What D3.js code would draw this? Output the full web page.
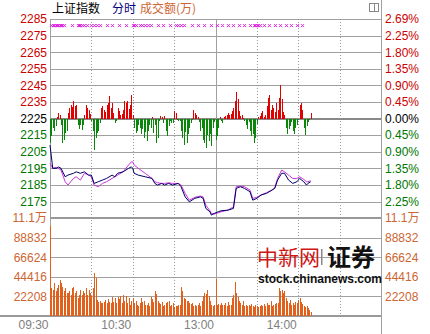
<!DOCTYPE html>
<html>
<head>
<meta charset="utf-8">
<script src="https://cdnjs.cloudflare.com/ajax/libs/d3/7.8.5/d3.min.js"></script>
<style>
  body { margin: 0; background: #fff; }
  svg text { font-family: "Liberation Sans", Arial, "Noto Sans CJK SC", sans-serif; }
</style>
</head>
<body>
<svg id="chart" width="430" height="334"></svg>
<script>
// --- data ---
var prevClose = 2225;
var priceTicks = [2285, 2275, 2265, 2255, 2245, 2235, 2225, 2215, 2205, 2195, 2185, 2175];
var pctLabels = ['2.69%', '2.25%', '1.80%', '1.35%', '0.90%', '0.45%', '0.00%',
                 '0.45%', '0.90%', '1.35%', '1.80%', '2.25%'];
var volTicks = [22208, 44416, 66624, 88832];
var volTop = 111040;
var volTopLabel = '11.1万';
var timeTicks = [0, 60, 120, 180];
var timeLabels = ['09:30', '10:30', '13:00', '14:00'];
var gridMinutes = [30, 60, 90, 120, 150, 180, 210];

// minutes after 09:30 (lunch break removed) for the two lines
var lineMinutes = [0, 2, 5, 6, 8, 11, 13, 17, 19, 22, 25, 28, 30, 32, 35, 38, 41, 45, 47, 49,
  53, 57, 59, 60, 61, 64, 69, 74, 76, 78, 81, 83, 86, 89, 93, 95, 98, 101, 105, 109,
  111, 113, 116, 117, 119, 122, 124, 129, 133, 135, 138, 141, 145, 147, 150, 153, 157, 161, 163, 165,
  168, 170, 173, 176, 179, 181, 184, 186, 187, 189];
var indexLine = [2209.0, 2195.0, 2195.0, 2195.9, 2195.0, 2189.9, 2190.9, 2192.0, 2192.9, 2192.0,
  2192.9, 2190.9, 2190.9, 2185.9, 2186.9, 2187.9, 2188.9, 2190.9, 2189.9, 2192.0,
  2192.9, 2195.0, 2195.9, 2195.0, 2192.0, 2190.9, 2189.9, 2188.9, 2185.9, 2184.9,
  2185.9, 2184.9, 2185.9, 2184.9, 2185.9, 2183.9, 2177.8, 2174.8, 2176.9, 2177.8,
  2176.9, 2170.8, 2168.8, 2166.8, 2167.8, 2168.8, 2169.4, 2169.8, 2170.8, 2182.9,
  2183.9, 2182.9, 2180.9, 2175.8, 2176.9, 2178.9, 2179.9, 2181.9, 2182.9, 2187.9,
  2192.0, 2192.0, 2187.9, 2185.9, 2186.9, 2188.9, 2186.9, 2184.9, 2185.9, 2186.9];
var avgLine = [2198.0, 2195.0, 2195.6, 2195.0, 2193.9, 2186.9, 2184.9, 2188.9, 2189.9, 2187.9,
  2192.0, 2190.9, 2189.9, 2184.9, 2183.9, 2185.9, 2186.9, 2188.9, 2189.9, 2190.9,
  2192.9, 2197.0, 2198.9, 2198.9, 2197.0, 2195.0, 2192.0, 2188.9, 2186.9, 2186.3,
  2185.9, 2185.9, 2186.3, 2185.9, 2185.9, 2184.9, 2179.9, 2175.8, 2177.5, 2178.3,
  2177.8, 2172.8, 2169.4, 2167.8, 2167.4, 2168.2, 2168.8, 2169.8, 2171.8, 2183.9,
  2184.3, 2183.9, 2181.9, 2176.9, 2177.5, 2178.9, 2180.3, 2181.9, 2183.5, 2188.9,
  2194.0, 2192.9, 2190.9, 2188.9, 2188.9, 2189.9, 2188.3, 2186.9, 2186.9, 2187.5];

// red / green strength bars, one per minute (in index points around the close line)
var flow = [-14.5, -10.7, -5.6, -7.6, -4.6, 0.8, 3.4, 2.4, -3.6, -14.5,
  -13.0, -8.6, -7.6, 3.4, 6.4, 8.0, 7.0, 10.5, 7.4, 8.4,
  -3.6, -6.6, -4.0, -7.2, -3.6, 2.4, 8.4, 6.4, 5.4, 3.0,
  -1.6, -7.6, -18.7, -11.7, -9.0, -7.6, -2.6, 6.4, 7.4, 5.4,
  4.0, 8.4, 9.4, 13.5, 6.4, 9.4, 3.4, -2.6, -1.6, 6.4,
  4.4, 2.0, 3.0, 5.4, 10.5, 9.4, 10.5, 6.0, 8.4, 13.9,
  2.4, -5.6, -8.6, -7.6, -4.0, -5.6, -9.6, -6.6, -11.7, -8.0,
  -13.7, -7.6, -3.6, -5.6, 0.8, -8.6, -4.0, -14.7, -11.7, -1.6,
  1.4, 1.0, -2.6, 1.4, -7.6, -10.7, -4.6, -1.6, -2.6, -2.6,
  4.4, 3.4, -0.6, -1.6, -1.6, -7.6, -11.7, -15.7, -8.0, -14.7,
  -9.6, -5.6, -2.6, -1.0, 5.4, 3.4, 2.4, 0.8, -2.0, -7.6,
  -5.6, -12.7, -14.7, -17.7, -10.0, -13.7, -9.6, -16.5, -5.6, -2.0,
  -12.7, -10.6, -5.6, 0.8, -1.6, -2.6, 1.0, 1.4, 2.4, 3.4,
  2.4, 3.0, 4.4, 6.4, 10.5, 16.0, 11.5, 4.4, 1.5, 2.0,
  0.4, -1.6, -3.6, -6.6, -2.0, -7.6, -10.7, -9.6, -14.7, -11.7,
  -3.0, 0.8, 1.4, 3.4, 4.4, 1.0, 2.4, 7.4, 12.5, 14.0,
  5.4, 8.4, 6.4, 4.0, 9.4, 5.4, 12.5, 20.5, 12.0, 4.0,
  2.4, -5.6, -9.6, -6.6, -4.6, -2.0, -7.6, -9.6, -5.6, -3.6,
  -1.0, 8.4, 9.6, 5.4, -5.6, -9.7, -4.6, -2.0, -0.6, 3.4];

// turnover per minute (万)
var volume = [102000, 31700, 29800, 37400, 28300, 31700, 35000, 40800, 37400, 33000,
  28300, 31700, 26000, 26000, 28300, 23800, 31700, 32800, 26000, 28300,
  20400, 24000, 29500, 23800, 28300, 26000, 31700, 23800, 30000, 26000,
  23000, 31700, 48700, 43000, 18100, 15800, 17000, 14700, 14700, 16000,
  18100, 14700, 19800, 16000, 14700, 21200, 16000, 20400, 15000, 21200,
  19800, 22700, 15000, 23800, 17000, 22700, 14700, 20400, 13000, 17000,
  20400, 14700, 17000, 12500, 11300, 15000, 20400, 16000, 17000, 12500,
  13000, 15000, 11300, 21200, 19800, 16000, 28000, 24900, 17000, 14700,
  13600, 16000, 11300, 12500, 14700, 15800, 17000, 11300, 12500, 15000,
  10700, 11000, 11300, 13000, 12000, 32500, 28300, 20400, 19800, 17000,
  17000, 15000, 13600, 15000, 11000, 13000, 11300, 12500, 15000, 11300,
  17000, 22700, 26000, 24900, 29800, 22700, 17000, 13000, 11000, 12000,
  41900, 12000, 13600, 12500, 14700, 13000, 12000, 14700, 11300, 16000,
  12500, 13000, 20400, 23800, 38500, 26000, 21200, 17000, 15000, 12500,
  17000, 11300, 13000, 11300, 12500, 11300, 13600, 11000, 10700, 12500,
  11300, 10700, 11300, 12500, 11300, 13600, 11300, 15000, 13000, 12500,
  17000, 11000, 12500, 13600, 15000, 15000, 31700, 28300, 29800, 26000,
  28300, 20400, 17000, 14700, 18100, 12500, 14700, 12500, 16000, 14700,
  18100, 20400, 16000, 13600, 11300, 9700, 11000, 9000, 7200, 5000];

// minutes carrying a cross marker on the top row
var crossMinutes = [1, 2, 3, 4, 5, 6, 7, 8, 9, 10, 16, 20, 21, 22, 23, 25, 27, 30, 32, 34, 36,
  41, 45, 50, 55, 60, 61, 62, 65, 67, 69, 71, 73, 78, 82, 87, 91, 93, 95, 97,
  103, 107, 112, 117, 121, 125, 129, 133, 137, 141, 145, 148, 149, 150, 151, 152,
  155, 159, 163, 167, 171, 175, 179, 183];

var RED = '#cc0000', GREEN = '#007700', ORANGE = '#cc6633', GRID = '#a0a0a0';

var svg = d3.select('#chart');

var x = d3.scaleLinear().domain([0, 240]).range([50, 381]);
var y = d3.scaleLinear().domain([2175, 2285]).range([201.5, 19]);
var yVol = d3.scaleLinear().domain([0, volTop]).range([316, 218]);

function crisp(v) { return Math.round(v) + 0.5; }
function tickColor(d) { return d > prevClose ? RED : (d < prevClose ? GREEN : '#000'); }

// title
var title = svg.append('text').attr('x', 52).attr('y', 13)
    .style('font-family', '"Noto Sans CJK SC", sans-serif').style('font-size', '12px');
title.append('tspan').attr('fill', '#000').text('上证指数');
title.append('tspan').attr('x', 112).attr('fill', '#000080').text('分时');
title.append('tspan').attr('x', 140).attr('fill', ORANGE).text('成交额(万)');

// little toggle icon, top right
svg.append('rect').attr('x', 369.5).attr('y', 3.5).attr('width', 9).attr('height', 8)
    .attr('fill', 'none').attr('stroke', '#888');
svg.append('line').attr('x1', 374.5).attr('x2', 374.5).attr('y1', 3.5).attr('y2', 11.5)
    .attr('stroke', '#888');

// grid
var grid = svg.append('g').attr('shape-rendering', 'crispEdges');
grid.selectAll('.hp').data(priceTicks).enter().append('line')
    .attr('x1', 50).attr('x2', 381)
    .attr('y1', function(d) { return d === prevClose ? Math.round(y(d)) : crisp(y(d)); })
    .attr('y2', function(d) { return d === prevClose ? Math.round(y(d)) : crisp(y(d)); })
    .attr('stroke', function(d) { return d === prevClose ? '#888' : GRID; })
    .attr('stroke-width', function(d) { return d === prevClose ? 2 : 1; });
grid.selectAll('.hv').data(volTicks).enter().append('line')
    .attr('x1', 50).attr('x2', 381)
    .attr('y1', function(d) { return crisp(yVol(d)); })
    .attr('y2', function(d) { return crisp(yVol(d)); })
    .attr('stroke', GRID);
grid.selectAll('.v').data(gridMinutes).enter().append('line')
    .attr('x1', function(d) { return crisp(x(d)); })
    .attr('x2', function(d) { return crisp(x(d)); })
    .attr('y1', 19).attr('y2', 316)
    .attr('stroke', function(d) { return d === 120 ? GRID : '#999'; })
    .attr('stroke-dasharray', function(d) { return d === 120 ? null : '1,2'; });
// frame
grid.append('line').attr('x1', 50.5).attr('x2', 50.5).attr('y1', 19).attr('y2', 316).attr('stroke', GRID);
grid.append('line').attr('x1', 381.5).attr('x2', 381.5).attr('y1', 0).attr('y2', 334).attr('stroke', GRID);
grid.append('line').attr('x1', 50).attr('x2', 381)
    .attr('y1', Math.round(yVol(volTop))).attr('y2', Math.round(yVol(volTop)))
    .attr('stroke', '#999').attr('stroke-width', 2);
grid.append('line').attr('x1', 0).attr('x2', 381)
    .attr('y1', Math.round(yVol(0))).attr('y2', Math.round(yVol(0)))
    .attr('stroke', '#999').attr('stroke-width', 2);

// red / green bars
var y0 = y(prevClose);
svg.append('g').attr('shape-rendering', 'crispEdges')
  .selectAll('rect').data(flow).enter().append('rect')
    .attr('x', function(d, i) { return Math.round(x(i)); })
    .attr('width', 1)
    .attr('y', function(d) { return d > 0 ? y(prevClose + d) : y0; })
    .attr('height', function(d) { return Math.abs(y(prevClose + d) - y0); })
    .attr('fill', function(d) { return d > 0 ? '#e00000' : '#0a860a'; });

// volume bars
svg.append('g').attr('shape-rendering', 'crispEdges')
  .selectAll('rect').data(volume).enter().append('rect')
    .attr('x', function(d, i) { return Math.round(x(i)); })
    .attr('width', 1)
    .attr('y', function(d) { return yVol(d); })
    .attr('height', function(d) { return yVol(0) - yVol(d); })
    .attr('fill', '#e0601c');

// lines
var line = d3.line()
    .x(function(d, i) { return x(lineMinutes[i]); })
    .y(function(d) { return y(d); });
svg.append('path').datum(avgLine).attr('d', line)
    .attr('fill', 'none').attr('stroke', '#cc33dd').attr('stroke-width', 1);
svg.append('path').datum(indexLine).attr('d', line)
    .attr('fill', 'none').attr('stroke', '#000066').attr('stroke-width', 1);

// cross markers
var my = y(2281);
svg.append('g').attr('stroke', '#e020e0').attr('stroke-width', 1)
  .selectAll('path').data(crossMinutes).enter().append('path')
    .attr('d', function(d) {
      var cx = Math.round(x(d)) + 0.5;
      return 'M' + (cx - 1.5) + ',' + (my - 1.5) + 'L' + (cx + 1.5) + ',' + (my + 1.5) +
             'M' + (cx + 1.5) + ',' + (my - 1.5) + 'L' + (cx - 1.5) + ',' + (my + 1.5);
    });

// axes
function styleAxis(g) {
  g.attr('font-size', 12).attr('font-family', '"Liberation Sans", Arial, "Noto Sans CJK SC", sans-serif');
  g.select('.domain').remove();
  g.selectAll('line').remove();
}
svg.append('g').attr('transform', 'translate(50,0)')
    .call(d3.axisLeft(y).tickValues(priceTicks).tickSize(0).tickPadding(3).tickFormat(d3.format('d')))
    .call(styleAxis)
    .selectAll('text').attr('fill', tickColor);
svg.append('g').attr('transform', 'translate(381,0)')
    .call(d3.axisRight(y).tickValues(priceTicks).tickSize(0).tickPadding(4)
      .tickFormat(function(d, i) { return pctLabels[i]; }))
    .call(styleAxis)
    .selectAll('text').attr('fill', tickColor);
var volAxisTicks = volTicks.concat([volTop]);
function volFormat(d) { return d === volTop ? volTopLabel : String(d); }
svg.append('g').attr('transform', 'translate(50,0)')
    .call(d3.axisLeft(yVol).tickValues(volAxisTicks).tickSize(0).tickPadding(3).tickFormat(volFormat))
    .call(styleAxis)
    .selectAll('text').attr('fill', ORANGE);
svg.append('g').attr('transform', 'translate(381,0)')
    .call(d3.axisRight(yVol).tickValues(volAxisTicks).tickSize(0).tickPadding(4).tickFormat(volFormat))
    .call(styleAxis)
    .selectAll('text').attr('fill', ORANGE);
svg.append('g').attr('transform', 'translate(0,316)')
    .call(d3.axisBottom(x).tickValues(timeTicks).tickSize(0).tickPadding(4)
      .tickFormat(function(d, i) { return timeLabels[i]; }))
    .call(styleAxis)
    .selectAll('text').attr('fill', '#808080').attr('text-anchor', 'end').attr('x', -2);

// watermark
var wm = svg.append('g');
wm.append('text').attr('x', 257).attr('y', 265)
    .style('font-family', '"Noto Sans CJK SC", sans-serif').style('font-size', '21px')
    .attr('fill', '#d01515').text('中新网');
wm.append('rect').attr('x', 321).attr('y', 249).attr('width', 1.5).attr('height', 16).attr('fill', '#888');
wm.append('text').attr('x', 327).attr('y', 266)
    .style('font-family', '"Noto Sans CJK SC", sans-serif').style('font-size', '24px')
    .style('font-weight', 'bold').attr('fill', '#111').text('证券');
wm.append('text').attr('x', 258).attr('y', 283)
    .style('font-size', '12px').style('font-weight', 'bold').attr('fill', '#111')
    .text('stock.chinanews.com');
</script>
</body>
</html>
